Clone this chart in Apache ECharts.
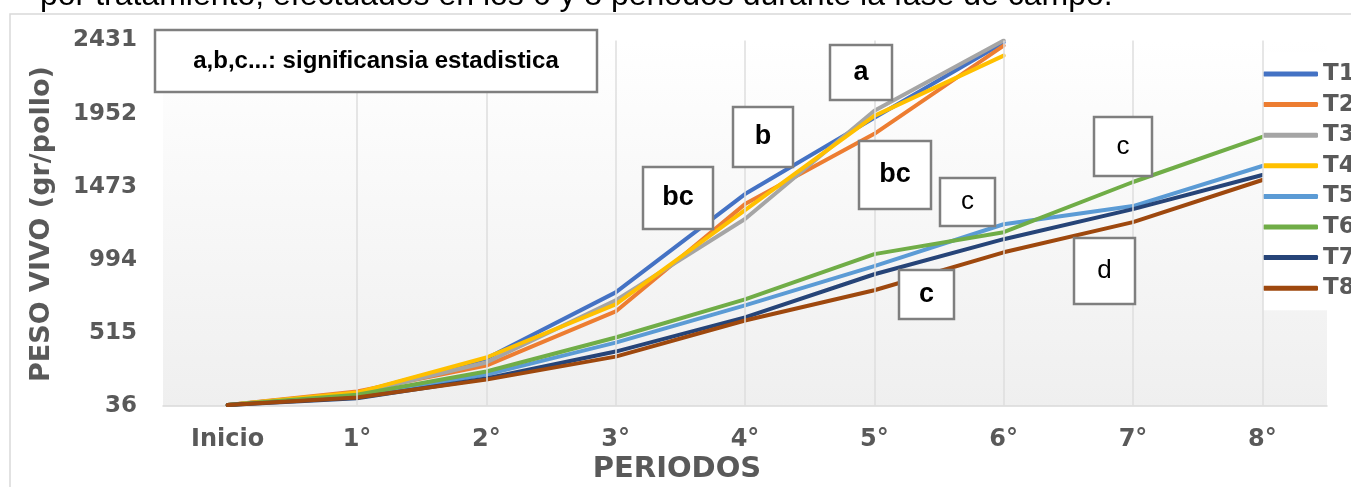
<!DOCTYPE html>
<html>
<head>
<meta charset="utf-8">
<script src="https://cdn.jsdelivr.net/npm/echarts@6/dist/echarts.min.js"></script>
<style>
html,body{margin:0;padding:0;background:#fff;}
#main{width:1351px;height:487px;}
</style>
</head>
<body>
<div id="main"></div>
<script>
// ---- data ----
const categories = ['Inicio', '1°', '2°', '3°', '4°', '5°', '6°', '7°', '8°'];
const seriesNames = ['T1', 'T2', 'T3', 'T4', 'T5', 'T6', 'T7', 'T8'];
const T1 = [40, 120, 345, 779, 1424, 1924, 2418, null, null];
const T2 = [40, 130, 299, 654, 1358, 1819, 2398, null, null];
const T3 = [40, 118, 319, 727, 1260, 1970, 2431, null, null];
const T4 = [40, 122, 352, 700, 1319, 1937, 2332, null, null];
const T5 = [40, 100, 240, 450, 694, 951, 1226, 1345, 1608];
const T6 = [40, 108, 260, 483, 733, 1030, 1174, 1503, 1799];
const T7 = [40, 85, 214, 391, 615, 898, 1128, 1325, 1549];
const T8 = [40, 90, 207, 358, 595, 793, 1042, 1240, 1516];
const yTicks = [36, 515, 994, 1473, 1952, 2431];
const gridCategories = ['1°', '2°', '3°', '4°', '5°', '6°', '7°', '8°'];

// ---- styles ----
const colors = ['#4472C4', '#ED7D31', '#A5A5A5', '#FFC000', '#5B9BD5', '#70AD47', '#264478', '#9E480E'];
const seriesData = [T1, T2, T3, T4, T5, T6, T7, T8];
const axisFont = 'DejaVu Sans';
const grey = '#595959';

const chart = echarts.init(document.getElementById('main'), null, {renderer: 'canvas'});

function box(x, y, w, h, text, bold, size) {
  return {
    type: 'group', z: 100,
    children: [
      {type: 'rect', z: 100, shape: {x: x, y: y, width: w, height: h},
       style: {fill: '#ffffff', stroke: '#7f7f7f', lineWidth: 2.5}},
      {type: 'text', z: 101, x: x + w / 2, y: y + h / 2,
       style: {text: text, fill: '#000', align: 'center', verticalAlign: 'middle',
               font: (bold ? 'bold ' : '') + size + 'px "Liberation Sans", Arial, sans-serif'}}
    ]
  };
}

const series = seriesNames.map((n, i) => ({
  name: n, type: 'line', data: seriesData[i], symbol: 'none',
  lineStyle: {color: colors[i], width: 4, cap: 'round', join: 'round'},
  itemStyle: {color: colors[i]},
  connectNulls: false, animation: false
}));
series.push({
  name: '_grid', type: 'line', data: [], silent: true, animation: false,
  markLine: {
    silent: true, symbol: 'none', animation: false, label: {show: false},
    lineStyle: {color: '#dedede', width: 1.5, type: 'solid'},
    data: gridCategories.map(c => ({xAxis: c}))
  }
});

chart.setOption({
  animation: false,
  color: colors,
  grid: {
    left: 163, right: 24, top: 40.5, bottom: 81.3, show: true, borderWidth: 0,
    backgroundColor: {type: 'linear', x: 0, y: 0, x2: 0, y2: 1,
      colorStops: [{offset: 0, color: '#ffffff'}, {offset: 1, color: '#efefef'}]}
  },
  legend: {
    data: seriesNames, orient: 'vertical', left: 1263, top: 52,
    padding: [10, 0, 10, 0], backgroundColor: '#ffffff',
    icon: 'roundRect', itemWidth: 55, itemHeight: 5, itemGap: 6.6,
    textStyle: {fontFamily: axisFont, fontWeight: 'bold', fontSize: 23, color: grey, lineHeight: 24}
  },
  xAxis: {
    type: 'category', data: categories, boundaryGap: true,
    axisLine: {show: true, lineStyle: {color: '#d9d9d9', width: 1.5}},
    axisTick: {show: false},
    splitLine: {show: false},
    axisLabel: {fontFamily: axisFont, fontWeight: 'bold', fontSize: 24, color: grey, margin: 22}
  },
  yAxis: {
    type: 'value', min: yTicks[0], max: yTicks[yTicks.length - 1],
    interval: yTicks[1] - yTicks[0],
    axisLine: {show: false}, axisTick: {show: false}, splitLine: {show: false},
    axisLabel: {fontFamily: axisFont, fontWeight: 'bold', fontSize: 23, color: grey, margin: 26,
                formatter: v => String(Math.round(v))}
  },
  graphic: [
    {type: 'rect', z: -10, shape: {x: 10, y: 14, width: 1400, height: 600},
     style: {fill: 'none', stroke: '#d9d9d9', lineWidth: 1.5}},
    {type: 'text', x: 40, y: -4, z: 5,
     style: {text: 'por tratamiento, efectuados en los 6 y 8 periodos durante la fase de campo.',
             fill: '#000', align: 'left', verticalAlign: 'middle',
             font: '32px "Liberation Sans", Arial, sans-serif'}},
    {type: 'text', x: 42, y: 224, rotation: Math.PI / 2, z: 5,
     style: {text: 'PESO VIVO (gr/pollo)', fill: grey, align: 'center', verticalAlign: 'middle',
             font: 'bold 27px "DejaVu Sans", sans-serif'}},
    {type: 'text', x: 677, y: 469, z: 5,
     style: {text: 'PERIODOS', fill: grey, align: 'center', verticalAlign: 'middle',
             font: 'bold 29px "DejaVu Sans", sans-serif'}},
    box(155, 30, 442, 62, 'a,b,c...: significansia estadistica', true, 24),
    box(830, 45, 62, 55, 'a', true, 27),
    box(733, 107, 60, 60, 'b', true, 27),
    box(643, 167, 70, 62, 'bc', true, 27),
    box(859, 141, 72, 68, 'bc', true, 27),
    box(940, 178, 55, 48, 'c', false, 26),
    box(899, 270, 55, 49, 'c', true, 27),
    box(1094, 117, 58, 59, 'c', false, 26),
    box(1074, 238, 61, 66, 'd', false, 26)
  ],
  series: series
});
</script>
</body>
</html>
